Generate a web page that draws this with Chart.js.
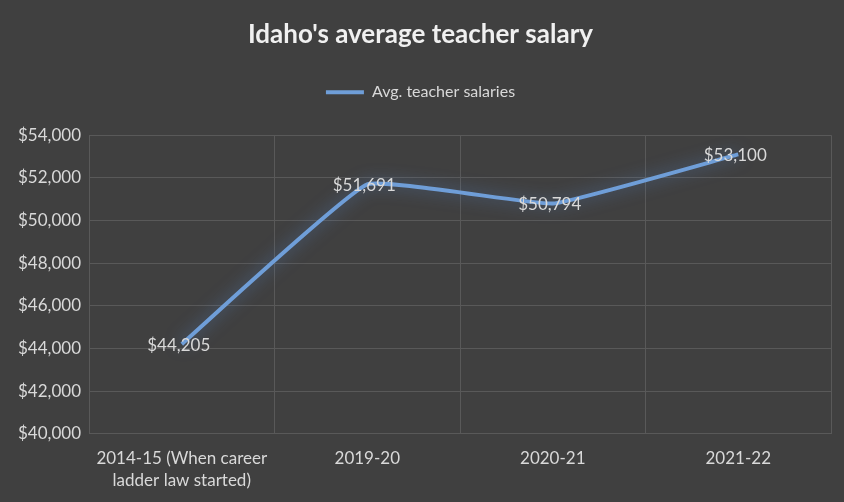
<!DOCTYPE html>
<html>
<head>
<meta charset="utf-8">
<script src="https://cdn.jsdelivr.net/npm/chart.js@4.4.1/dist/chart.umd.min.js"></script>
<style>
  html, body { margin: 0; padding: 0; background: #404040; }
  #wrap { width: 844px; height: 502px; }
</style>
</head>
<body>
<div id="wrap"><canvas id="salaryChart"></canvas></div>
<script>
const categories = [['2014-15 (When career', 'ladder law started)'], '2019-20', '2020-21', '2021-22'];
const salaries = [44205, 51691, 50794, 53100];
const yTicks = [40000, 42000, 44000, 46000, 48000, 50000, 52000, 54000];

const money = v => '$' + v.toLocaleString('en-US');
const textColor = '#d9d9d9';
const font = 'Lato, "Open Sans", sans-serif';

// glow behind the line, like Excel's soft-edge effect
const glowPlugin = {
  id: 'lineGlow',
  beforeDatasetDraw(chart) {
    const ctx = chart.ctx;
    ctx.save();
    ctx.shadowColor = 'rgba(90, 140, 215, 0.6)';
    ctx.shadowBlur = 16;
  },
  afterDatasetDraw(chart) {
    chart.ctx.restore();
  }
};

// extra room under the legend
const legendGap = {
  id: 'legendGap',
  beforeInit(chart) {
    const fit = chart.legend.fit;
    chart.legend.fit = function () {
      fit.bind(chart.legend)();
      this.height += 25;
    };
  }
};

// value labels centred on each point
const valueLabels = {
  id: 'valueLabels',
  afterDatasetsDraw(chart) {
    const ctx = chart.ctx;
    const meta = chart.getDatasetMeta(0);
    ctx.save();
    ctx.font = '17px ' + font;
    ctx.fillStyle = textColor;
    ctx.textAlign = 'center';
    ctx.textBaseline = 'middle';
    meta.data.forEach((pt, i) => {
      ctx.fillText(money(salaries[i]), pt.x - 3, pt.y + 1);
    });
    ctx.restore();
  }
};

new Chart(document.getElementById('salaryChart'), {
  type: 'line',
  data: {
    labels: categories,
    datasets: [{
      label: 'Avg. teacher salaries',
      data: salaries,
      borderColor: '#6f9ed8',
      backgroundColor: '#6f9ed8',
      borderWidth: 4,
      tension: 0.1,
      pointRadius: 0,
      pointHoverRadius: 0
    }]
  },
  options: {
    responsive: true,
    maintainAspectRatio: false,
    animation: false,
    layout: { padding: { left: 10, right: 13, top: 10, bottom: 4 } },
    plugins: {
      title: {
        display: true,
        text: "Idaho's average teacher salary",
        color: '#f0f0f0',
        font: { family: font, size: 26, weight: 'bold' },
        padding: { top: 9, bottom: 24 }
      },
      legend: {
        labels: {
          color: textColor,
          font: { family: font, size: 16 },
          boxWidth: 38,
          boxHeight: 0,
          padding: 10,
          generateLabels() {
            return [{
              text: 'Avg. teacher salaries',
              fillStyle: '#6f9ed8',
              strokeStyle: '#6f9ed8',
              lineWidth: 4,
              fontColor: textColor,
              datasetIndex: 0
            }];
          }
        }
      },
      tooltip: { enabled: false }
    },
    scales: {
      x: {
        offset: true,
        afterFit(scale) { scale.height -= 8; },
        grid: { offset: true, color: '#595959', lineWidth: 1, drawTicks: false },
        border: { display: false },
        ticks: {
          color: textColor,
          font: { family: font, size: 17, lineHeight: 1.3 },
          padding: 14,
          maxRotation: 0
        }
      },
      y: {
        min: 40000,
        max: 54000,
        afterBuildTicks(scale) { scale.ticks = yTicks.map(v => ({ value: v })); },
        grid: { color: '#595959', lineWidth: 1, drawTicks: false },
        border: { display: false },
        ticks: {
          color: textColor,
          font: { family: font, size: 17 },
          padding: 8,
          callback: v => money(v)
        }
      }
    }
  },
  plugins: [glowPlugin, legendGap, valueLabels]
});
</script>
</body>
</html>
